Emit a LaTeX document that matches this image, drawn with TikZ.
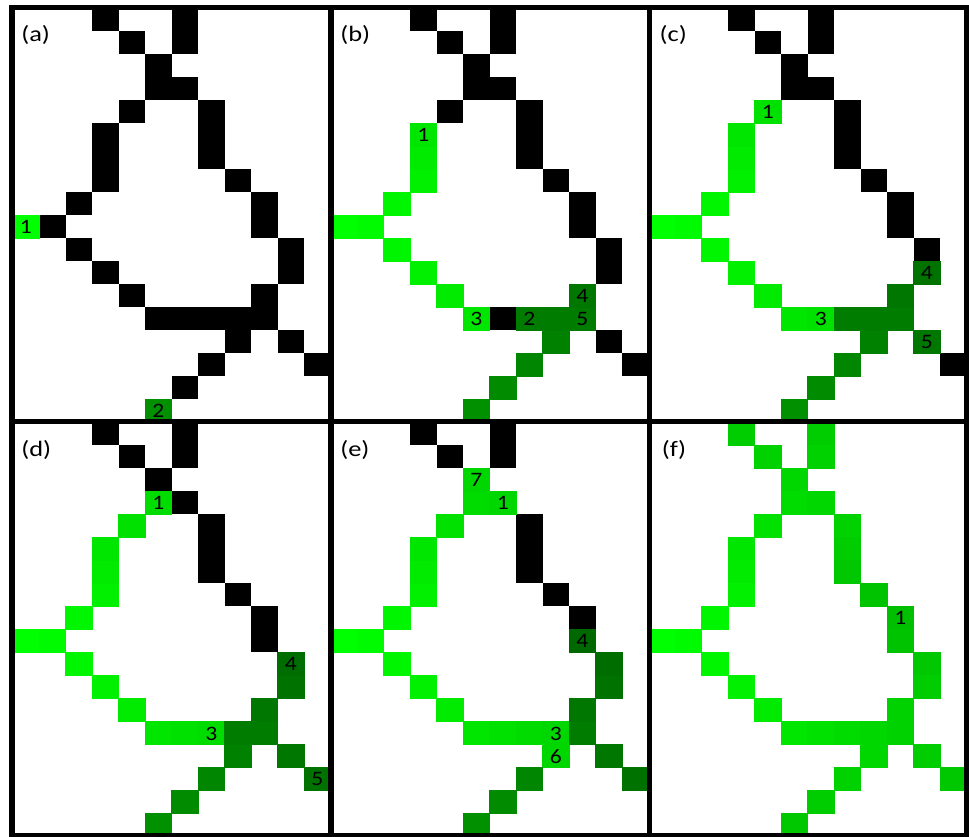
\documentclass[tikz,border=0pt]{standalone}
\usepackage{graphicx}
\usepackage{fontspec}
\setmainfont{Carlito}
\def\gx{12.6}\def\gw{26.5}\def\gy{7.8}\def\gh{23.02}
\newcommand\Kc[2]{\fill[black] ({\gx+\gw*(\pc*12+#1)},{\gy+\gh*(\pr*18+#2)}) rectangle ++(\gw,\gh);}
\newcommand\Lc[3]{\pgfmathtruncatemacro\gv{255-5*#3}\definecolor{tmpc}{RGB}{0,\gv,0}%
  \filldraw[fill=tmpc,draw=tmpc,line width=0.3pt] ({\gx+\gw*(\pc*12+#1)},{\gy+\gh*(\pr*18+#2)}) rectangle ++(\gw,\gh);}
\newcommand\Dc[3]{\pgfmathtruncatemacro\gv{144-5*#3}\definecolor{tmpc}{RGB}{0,\gv,0}%
  \filldraw[fill=tmpc,draw=tmpc,line width=0.3pt] ({\gx+\gw*(\pc*12+#1)},{\gy+\gh*(\pr*18+#2)}) rectangle ++(\gw,\gh);}
\newcommand\Num[3]{\node[numtext] (num-\pc-\pr-#1-#2) at ({\gx+\gw*(\pc*12+#1+0.5)},{\gy+\gh*(\pr*18+#2+0.5)+0.5}) {\scalebox{1.15}[1]{#3}};}
\newcommand\Tag[3]{\node[paneltag] (tag-#1) at (#2,#3) {\scalebox{1.2}[1]{(#1)}};}
\tikzset{
  numtext/.style={font=\fontsize{20.5}{20.5}\selectfont, inner sep=0pt, text=black},
  paneltag/.style={font=\fontsize{22}{22}\selectfont, inner sep=0pt, anchor=base west, text=black},
  frameline/.style={line width=5.5pt, black}
}
\begin{document}
\begin{tikzpicture}[x=1pt,y=-1pt]
\useasboundingbox (0,0) rectangle (969,836);
\fill[white] (0,0) rectangle (969,836);
% ---------- (a)
\def\pc{0}\def\pr{0}
\foreach \c/\r in {3/0,6/0,4/1,6/1,5/2,5/3,6/3,4/4,7/4,7/5,7/6,3/5,3/6,3/7,8/7,2/8,9/8,9/9,1/9,2/10,10/10,10/11,3/11,4/12,9/12,5/13,6/13,7/13,8/13,9/13,8/14,10/14,7/15,11/15,6/16} {\Kc{\c}{\r}}
\Lc{0}{9}{0}
\Dc{5}{17}{0}
\Num{0}{9}{1}\Num{5}{17}{2}
% ---------- (b)
\def\pc{1}\def\pr{0}
\foreach \c/\r in {3/0,6/0,4/1,6/1,5/2,5/3,6/3,4/4,7/4,7/5,7/6,8/7,9/8,9/9,10/10,10/11,6/13,10/14,11/15} {\Kc{\c}{\r}}
\foreach \c/\r/\d in {0/9/0,1/9/1,2/8/2,2/10/2,3/7/3,3/6/4,3/5/5,3/11/3,4/12/4,5/13/5} {\Lc{\c}{\r}{\d}}
\foreach \c/\r/\d in {5/17/0,6/16/1,7/15/2,8/14/3,7/13/4,8/13/4,9/13/4,9/12/5} {\Dc{\c}{\r}{\d}}
\Num{3}{5}{1}\Num{5}{13}{3}\Num{7}{13}{2}\Num{9}{12}{4}\Num{9}{13}{5}
% ---------- (c)
\def\pc{2}\def\pr{0}
\foreach \c/\r in {3/0,6/0,4/1,6/1,5/2,5/3,6/3,7/4,7/5,7/6,8/7,9/8,9/9,10/10,11/15} {\Kc{\c}{\r}}
\foreach \c/\r/\d in {0/9/0,1/9/1,2/8/2,2/10/2,3/7/3,3/6/4,3/5/5,3/11/3,4/12/4,5/13/5,4/4/6,6/13/6} {\Lc{\c}{\r}{\d}}
\foreach \c/\r/\d in {5/17/0,6/16/1,7/15/2,8/14/3,7/13/4,8/13/4,9/13/4,9/12/5,10/11/6,10/14/5} {\Dc{\c}{\r}{\d}}
\Num{4}{4}{1}\Num{6}{13}{3}\Num{10}{11}{4}\Num{10}{14}{5}
% ---------- (d)
\def\pc{0}\def\pr{1}
\foreach \c/\r in {3/0,6/0,4/1,6/1,5/2,6/3,7/4,7/5,7/6,8/7,9/8,9/9} {\Kc{\c}{\r}}
\foreach \c/\r/\d in {0/9/0,1/9/1,2/8/2,2/10/2,3/7/3,3/6/4,3/5/5,3/11/3,4/12/4,5/13/5,4/4/6,6/13/6,5/3/7,7/13/7} {\Lc{\c}{\r}{\d}}
\foreach \c/\r/\d in {5/17/0,6/16/1,7/15/2,8/14/3,8/13/4,9/13/4,9/12/5,10/11/6,10/14/5,10/10/7,11/15/6} {\Dc{\c}{\r}{\d}}
\Num{5}{3}{1}\Num{7}{13}{3}\Num{10}{10}{4}\Num{11}{15}{5}
% ---------- (e)
\def\pc{1}\def\pr{1}
\foreach \c/\r in {3/0,6/0,4/1,6/1,7/4,7/5,7/6,8/7,9/8} {\Kc{\c}{\r}}
\foreach \c/\r/\d in {0/9/0,1/9/1,2/8/2,2/10/2,3/7/3,3/6/4,3/5/5,3/11/3,4/12/4,5/13/5,4/4/6,6/13/6,5/3/7,7/13/7,5/2/8,6/3/8,8/13/8,8/14/8} {\Lc{\c}{\r}{\d}}
\foreach \c/\r/\d in {5/17/0,6/16/1,7/15/2,9/13/4,9/12/5,10/11/6,10/14/5,10/10/7,11/15/6,9/9/8} {\Dc{\c}{\r}{\d}}
\Num{5}{2}{7}\Num{6}{3}{1}\Num{9}{9}{4}\Num{8}{13}{3}\Num{8}{14}{6}
% ---------- (f)
\def\pc{2}\def\pr{1}
\foreach \c/\r/\d in {3/0/10,6/0/10,4/1/9,6/1/9,5/2/8,5/3/7,6/3/8,4/4/6,7/4/9,7/5/10,7/6/11,3/5/5,3/6/4,3/7/3,8/7/12,2/8/2,9/8/13,9/9/12,0/9/0,1/9/1,2/10/2,10/10/11,10/11/10,3/11/3,4/12/4,9/12/9,5/13/5,6/13/6,7/13/7,8/13/8,9/13/9,8/14/8,10/14/10,7/15/9,11/15/11,6/16/10,5/17/11} {\Lc{\c}{\r}{\d}}
\Num{9}{8}{1}
% ---------- frames
\draw[frameline] (12.2,7.5) rectangle (967,835.5);
\draw[frameline] (330.8,7.5) -- (330.8,835.5);
\draw[frameline] (649.5,7.5) -- (649.5,835.5);
\draw[frameline] (12.2,421.3) -- (967,421.3);
% ---------- panel tags
\Tag{a}{21.1}{41.5}
\Tag{b}{340.1}{41.5}
\Tag{c}{659.4}{41.5}
\Tag{d}{21.1}{456.5}
\Tag{e}{340.1}{456.5}
\Tag{f}{661.6}{456.5}
\end{tikzpicture}
\end{document}
